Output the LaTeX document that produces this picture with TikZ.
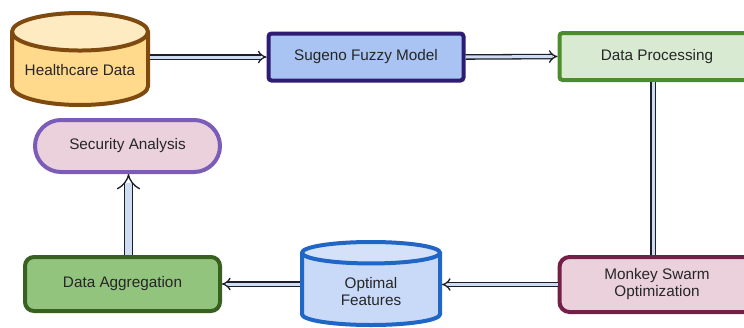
\documentclass[tikz,border=0pt]{standalone}
\usepackage{fontspec}
\setmainfont{Liberation Sans}
\usetikzlibrary{shapes,shapes.geometric,positioning,arrows.meta}
\definecolor{hcfill}{HTML}{FFD98C}
\definecolor{hctop}{HTML}{FFEBC2}
\definecolor{hcline}{HTML}{7F4A10}
\definecolor{sugfill}{HTML}{A9C3F2}
\definecolor{sugline}{HTML}{2E1C73}
\definecolor{procfill}{HTML}{D9EAD3}
\definecolor{procline}{HTML}{4C8C2B}
\definecolor{secfill}{HTML}{EAD1DC}
\definecolor{secline}{HTML}{7B5CB8}
\definecolor{aggfill}{HTML}{93C47D}
\definecolor{aggline}{HTML}{386020}
\definecolor{optfill}{HTML}{C9DAF8}
\definecolor{optline}{HTML}{1F66C7}
\definecolor{monfill}{HTML}{EAD1DC}
\definecolor{monline}{HTML}{731F48}
\definecolor{flowfill}{HTML}{CFDDF3}
\definecolor{flowline}{HTML}{1E1E2A}
\tikzstyle{every node}=[font=\fontsize{15.3}{17}\selectfont,text=black!85,align=center]
\tikzstyle{box}=[rectangle,line width=4pt,minimum width=195pt,minimum height=47pt]
\tikzstyle{store}=[cylinder,shape border rotate=90,aspect=0.32,line width=4pt,
  cylinder uses custom fill,anchor=shape center]
\tikzstyle{flow}=[draw=flowline,line width=1.3pt,double=flowfill,double distance=3pt]
\tikzstyle{flowhead}=[flow,-Implies]

\begin{document}
\begin{tikzpicture}[x=1pt,y=-1pt]
  \clip (0,0) rectangle (744,327);
  \node [store,draw=hcline,cylinder body fill=hcfill,cylinder end fill=hctop,
    minimum width=136pt,minimum height=92pt] (health) at (80,59) {\raisebox{5pt}{Healthcare Data}};
  \node [box,draw=sugline,fill=sugfill,rounded corners=3pt] (sugeno) at (366,57) {Sugeno Fuzzy Model};
  \node [box,draw=procline,fill=procfill,rounded corners=3pt] (proc) at (657,56.5) {Data Processing};
  \node [box,draw=secline,fill=secfill,rounded corners=26pt,
    minimum width=185pt,minimum height=52pt] (secure) at (127.5,146) {Security Analysis};
  \node [box,draw=aggline,fill=aggfill,rounded corners=9pt,minimum height=54pt] (aggr) at (122.5,284) {Data Aggregation};
  \node [store,draw=optline,cylinder body fill=optfill,cylinder end fill=optfill!80!white,
    minimum width=138pt,minimum height=83pt] (optim) at (371,283.5) {Optimal\\Features};
  \node [box,draw=monline,fill=monfill,rounded corners=10pt,minimum height=55pt] (monkey) at (657,284.5) {Monkey Swarm\\Optimization};

  \draw [flowhead] (sugeno.west -| health.east) -- (sugeno.west);
  \draw [flowhead] (sugeno.east) -- (proc.west);
  \draw [flow] ([xshift=-4pt]proc.south) -- ([xshift=-4pt]monkey.north);
  \draw [flowhead] (monkey.west) -- (monkey.west -| optim.east);
  \draw [flowhead] (aggr.east -| optim.west) -- (aggr.east);
  \draw [flowhead,double distance=7pt] ([xshift=6pt]aggr.north) -- ([xshift=6pt]aggr.north |- secure.south);
\end{tikzpicture}
\end{document}
